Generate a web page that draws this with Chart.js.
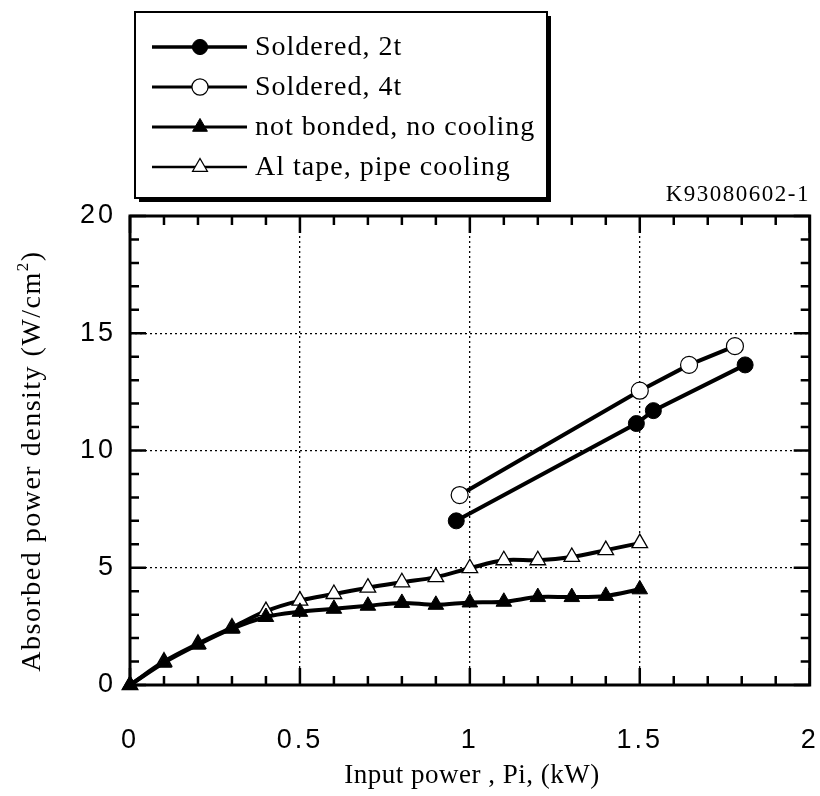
<!DOCTYPE html>
<html>
<head>
<meta charset="utf-8">
<script src="https://cdn.jsdelivr.net/npm/chart.js@4.4.0/dist/chart.umd.min.js"></script>
<style>
html,body{margin:0;padding:0;background:#fff;}
canvas{display:block;}
</style>
</head>
<body>
<canvas id="c" width="820" height="796" style="width:820px;height:796px"></canvas>
<script>
// ---- data ----
const seriesLabels = ['Soldered, 2t', 'Soldered, 4t', 'not bonded, no cooling', 'Al tape, pipe cooling'];
const soldered2tX = [0.96, 1.49, 1.54, 1.81];
const soldered2tY = [7.0, 11.15, 11.7, 13.65];
const soldered4tX = [0.97, 1.50, 1.645, 1.78];
const soldered4tY = [8.1, 12.55, 13.65, 14.45];
const powerSteps = [0, 0.1, 0.2, 0.3, 0.4, 0.5, 0.6, 0.7, 0.8, 0.9, 1.0, 1.1, 1.2, 1.3, 1.4, 1.5];
const notBondedY = [0, 0.95, 1.72, 2.4, 2.9, 3.12, 3.25, 3.38, 3.5, 3.42, 3.52, 3.55, 3.75, 3.75, 3.8, 4.08];
const alTapeY   = [0, 1.0, 1.76, 2.45, 3.15, 3.6, 3.88, 4.15, 4.38, 4.6, 4.98, 5.32, 5.32, 5.46, 5.75, 6.05];
const xTickValues = [0, 0.5, 1, 1.5, 2];
const yTickValues = [0, 5, 10, 15, 20];
const xTitle = 'Input power , Pi, (kW)';
const yTitleMain = 'Absorbed power density (W/cm';
const yTitleSup = '2';
const yTitleEnd = ')';
const figureId = 'K93080602-1';

const pts = (xs, ys) => xs.map((x, i) => ({x: x, y: ys[i]}));

const SERIF = '"Liberation Serif", "Times New Roman", serif';
const SANS = '"Liberation Sans", Arial, sans-serif';

const datasets = [
  {label: seriesLabels[0], data: pts(soldered2tX, soldered2tY), borderColor: '#000', borderWidth: 4,
   pointStyle: 'circle', pointRadius: 8, pointBackgroundColor: '#000', pointBorderColor: '#000', pointBorderWidth: 1,
   tension: 0, legendLineWidth: 3.5},
  {label: seriesLabels[1], data: pts(soldered4tX, soldered4tY), borderColor: '#000', borderWidth: 4,
   pointStyle: 'circle', pointRadius: 8.5, pointBackgroundColor: '#fff', pointBorderColor: '#000', pointBorderWidth: 1.2,
   tension: 0, legendLineWidth: 3},
  {label: seriesLabels[2], data: pts(powerSteps, notBondedY), borderColor: '#000', borderWidth: 4,
   pointStyle: 'triangle', pointRadius: 9, pointBackgroundColor: '#000', pointBorderColor: '#000', pointBorderWidth: 1,
   tension: 0.35, legendLineWidth: 3},
  {label: seriesLabels[3], data: pts(powerSteps, alTapeY), borderColor: '#000', borderWidth: 4,
   pointStyle: 'triangle', pointRadius: 9, pointBackgroundColor: '#fff', pointBorderColor: '#000', pointBorderWidth: 1.3,
   tension: 0.35, legendLineWidth: 2.5}
];
datasets.forEach(d => { d.clip = false; d.fill = false; });

const isEdge = (v, lo, hi) => Math.abs(v - lo) < 1e-9 || Math.abs(v - hi) < 1e-9;

const figurePlugin = {
  id: 'figure',
  beforeDraw(chart) {
    chart.ctx.letterSpacing = '3px';
  },
  beforeDatasetsDraw(chart) {
    const ctx = chart.ctx;
    ctx.save();
    ctx.letterSpacing = '0px';
    const {left, right, top, bottom} = chart.chartArea;
    const xs = chart.scales.x, ys = chart.scales.y;
    ctx.strokeStyle = '#000';
    ctx.lineWidth = 2.5;
    ctx.beginPath();
    const xMinor = 0.1, yMinor = 1;
    for (let v = xs.min; v <= xs.max + 1e-9; v += xMinor) {
      const px = xs.getPixelForValue(v);
      const major = Math.abs(v / 0.5 - Math.round(v / 0.5)) < 1e-6;
      const len = major ? 17 : 9;
      ctx.moveTo(px, bottom); ctx.lineTo(px, bottom - len);
      ctx.moveTo(px, top); ctx.lineTo(px, top + len);
    }
    for (let v = ys.min; v <= ys.max + 1e-9; v += yMinor) {
      const py = ys.getPixelForValue(v);
      const major = Math.abs(v % 5) < 1e-6;
      const len = major ? 16 : 9;
      ctx.moveTo(left, py); ctx.lineTo(left + len, py);
      ctx.moveTo(right, py); ctx.lineTo(right - len, py);
    }
    ctx.stroke();
    ctx.lineWidth = 3;
    ctx.strokeRect(left, top, right - left, bottom - top);
    ctx.restore();
  },
  afterDraw(chart) {
    const ctx = chart.ctx;
    ctx.save();
    ctx.letterSpacing = '0px';
    // legend box with drop shadow
    const bx = 135, by = 12, bw = 412, bh = 186;
    ctx.fillStyle = '#000';
    ctx.fillRect(bx + 4, by + 4, bw, bh);
    ctx.fillStyle = '#fff';
    ctx.fillRect(bx, by, bw, bh);
    ctx.strokeStyle = '#000';
    ctx.lineWidth = 2;
    ctx.strokeRect(bx, by, bw, bh);
    chart.data.datasets.forEach((ds, i) => {
      const cy = 47 + 40 * i;
      ctx.strokeStyle = '#000';
      ctx.lineWidth = ds.legendLineWidth;
      ctx.beginPath(); ctx.moveTo(152, cy); ctx.lineTo(247, cy); ctx.stroke();
      ctx.fillStyle = ds.pointBackgroundColor;
      ctx.strokeStyle = ds.pointBorderColor;
      ctx.lineWidth = ds.pointBorderWidth;
      Chart.helpers.drawPoint(ctx, {pointStyle: ds.pointStyle, radius: ds.pointRadius * 0.95, rotation: 0, borderWidth: ds.pointBorderWidth}, 200, cy);
      ctx.fillStyle = '#000';
      ctx.font = '28px ' + SERIF;
      ctx.letterSpacing = '1px';
      ctx.textAlign = 'left';
      ctx.textBaseline = 'middle';
      ctx.fillText(ds.label, 255, cy + 1);
      ctx.letterSpacing = '0px';
    });
    // figure id
    ctx.font = '23px ' + SERIF;
    ctx.letterSpacing = '1.5px';
    ctx.textAlign = 'right';
    ctx.textBaseline = 'alphabetic';
    ctx.fillStyle = '#000';
    ctx.fillText(figureId, 810, 201);
    // x title
    ctx.letterSpacing = '0.5px';
    ctx.font = '27px ' + SERIF;
    ctx.textAlign = 'center';
    ctx.fillText(xTitle, 472, 783);
    // y title (rotated, with superscript)
    ctx.save();
    ctx.translate(40, 461);
    ctx.rotate(-Math.PI / 2);
    ctx.letterSpacing = '1.5px';
    const fMain = '28px ' + SERIF, fSup = '17px ' + SERIF;
    ctx.font = fMain;
    const w1 = ctx.measureText(yTitleMain).width;
    const w3 = ctx.measureText(yTitleEnd).width;
    ctx.font = fSup;
    const w2 = ctx.measureText(yTitleSup).width;
    let sx = -(w1 + w2 + w3) / 2;
    ctx.textAlign = 'left';
    ctx.textBaseline = 'alphabetic';
    ctx.font = fMain; ctx.fillText(yTitleMain, sx, 0); sx += w1;
    ctx.font = fSup; ctx.fillText(yTitleSup, sx, -12); sx += w2;
    ctx.font = fMain; ctx.fillText(yTitleEnd, sx, 0);
    ctx.restore();
    ctx.restore();
  }
};

new Chart(document.getElementById('c'), {
  type: 'line',
  data: {datasets: datasets},
  plugins: [figurePlugin],
  options: {
    responsive: false,
    animation: false,
    devicePixelRatio: 1,
    layout: {padding: {left: 0, right: 10, top: 216, bottom: 0}},
    plugins: {legend: {display: false}, tooltip: {enabled: false}},
    scales: {
      x: {
        type: 'linear', min: 0, max: 2,
        afterBuildTicks: s => { s.ticks = xTickValues.map(v => ({value: v})); },
        afterFit: s => { s.height = 111; s.paddingLeft = 0; s.paddingRight = 0; },
        ticks: {color: '#000', font: {family: SANS, size: 27}, padding: 39, maxRotation: 0,
                callback: v => String(v)},
        grid: {drawTicks: false, lineWidth: 1.3,
               color: c => (c.tick && isEdge(c.tick.value, 0, 2)) ? 'rgba(0,0,0,0)' : '#000'},
        border: {display: false, dash: [2, 3]}
      },
      y: {
        type: 'linear', min: 0, max: 20,
        afterBuildTicks: s => { s.ticks = yTickValues.map(v => ({value: v})); },
        afterFit: s => { s.width = 130; s.paddingTop = 0; s.paddingBottom = 0; },
        ticks: {color: '#000', font: {family: SANS, size: 27}, padding: 14,
                callback: v => String(v)},
        grid: {drawTicks: false, lineWidth: 1.3,
               color: c => (c.tick && isEdge(c.tick.value, 0, 20)) ? 'rgba(0,0,0,0)' : '#000'},
        border: {display: false, dash: [2, 3]}
      }
    }
  }
});
</script>
</body>
</html>
